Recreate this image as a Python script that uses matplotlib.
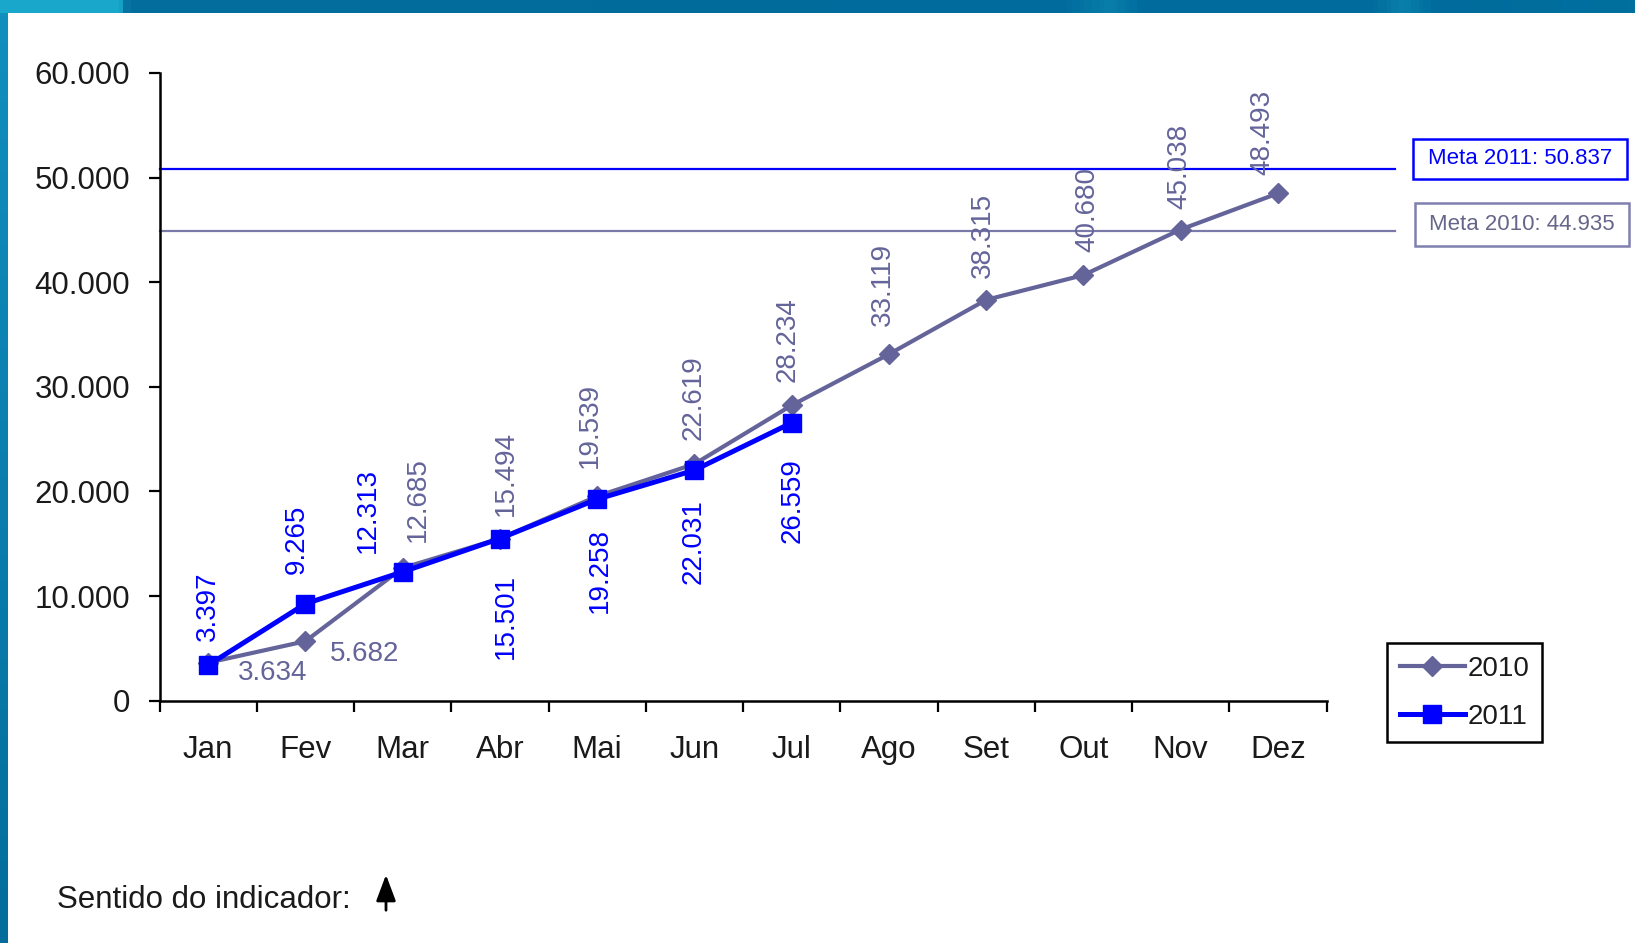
import matplotlib
matplotlib.use("Agg")
import numpy as np
import matplotlib.pyplot as plt
from matplotlib.ticker import FuncFormatter
from matplotlib.patches import Rectangle, FancyArrowPatch

plt.rcParams["font.family"] = ["Liberation Sans", "DejaVu Sans"]

# ---- data -------------------------------------------------------------
months = ["Jan", "Fev", "Mar", "Abr", "Mai", "Jun",
          "Jul", "Ago", "Set", "Out", "Nov", "Dez"]
values_2010 = [3634, 5682, 12685, 15494, 19539, 22619,
               28234, 33119, 38315, 40680, 45038, 48493]
values_2011 = [3397, 9265, 12313, 15501, 19258, 22031, 26559]
meta_2011 = 50837
meta_2010 = 44935
y_ticks = [0, 10000, 20000, 30000, 40000, 50000, 60000]

# ---- label placement (offsets in pixels from each point) ---------------
off_2010 = [(65, -10), (59, -13), (15, 26), (6, 23), (-7, 28), (-1, 24),
            (-4, 23), (-6, 28), (-3, 22), (4, 23), (-1, 21), (-15, 18)]
off_2011 = [(0, 24), (-9, 30), (-35, 19), (6, -35), (3, -29), (-1, -29),
            (1, -35)]

C10 = "#64649a"
C11 = "#0000ff"
TXT = "#1a1a1a"

W, H = 1635, 943
fig = plt.figure(figsize=(W / 100, H / 100), dpi=100)
fig.patch.set_facecolor("white")


def fx(x):
    return x / W


def fy(y):
    return 1 - y / H


# ---- frame decoration ---------------------------------------------------
top = fig.add_axes([0, fy(13), 1, 13 / H])
grad = np.linspace(0, 1, 400)[None, :]
top.imshow(grad, aspect="auto", cmap=matplotlib.colors.LinearSegmentedColormap.from_list(
    "topbar", [(0, "#19a7cc"), (0.07, "#19a7cc"), (0.075, "#046e9e"),
               (0.65, "#006b9c"), (0.68, "#0a7eaa"), (0.70, "#006b9c"),
               (0.84, "#006b9c"), (0.86, "#0a80ac"), (0.88, "#006b9c"),
               (1, "#00709f")]), extent=[0, 1, 0, 1])
top.set_axis_off()

left = fig.add_axes([0, 0, fx(8), fy(13)])
left.imshow(np.linspace(0, 1, 400)[:, None], aspect="auto",
            cmap=matplotlib.colors.LinearSegmentedColormap.from_list(
                "leftbar", ["#118fbd", "#0a7fae", "#036d9c"]),
            extent=[0, 1, 0, 1])
left.set_axis_off()

# ---- main axes ------------------------------------------------------------
ax = fig.add_axes([fx(159.5), fy(700.7), fx(1326.5) - fx(159.5), fy(73) - fy(700.7)])
x10 = np.arange(len(values_2010))
x11 = np.arange(len(values_2011))

l10, = ax.plot(x10, values_2010, color=C10, lw=3, marker="D", ms=10,
               zorder=3, solid_joinstyle="miter")
l11, = ax.plot(x11, values_2011, color=C11, lw=3.6, marker="s", ms=13,
               zorder=4)

ax.set_xlim(-0.5, 11.5)
ax.set_ylim(0, 60000)
ax.set_yticks(y_ticks)
ax.yaxis.set_major_formatter(FuncFormatter(lambda v, p: f"{int(v):,}".replace(",", ".")))

ax.set_xticks(np.arange(-0.5, 12, 1))
ax.set_xticklabels([])
ax.set_xticks(np.arange(12), minor=True)
ax.set_xticklabels(months, minor=True)
ax.tick_params(axis="x", which="major", length=8, width=1.6, direction="out", color="black")
ax.tick_params(axis="x", which="minor", length=0, pad=25, labelsize=22.5, labelcolor=TXT)
ax.tick_params(axis="y", length=8, width=1.6, direction="out", pad=13,
               labelsize=22.5, labelcolor=TXT, color="black")

for s in ("top", "right"):
    ax.spines[s].set_visible(False)
for s in ("left", "bottom"):
    ax.spines[s].set_linewidth(1.8)
    ax.spines[s].set_color("black")

# goal lines, running past the end of the category axis
ytr = ax.get_yaxis_transform()
ax.plot([0, 1.059], [meta_2011, meta_2011], transform=ytr, color=C11, lw=1.6,
        clip_on=False, zorder=2)
ax.plot([0, 1.059], [meta_2010, meta_2010], transform=ytr, color="#7a7aaa", lw=1.6,
        clip_on=False, zorder=2)

# ---- value labels ---------------------------------------------------------
def fmt(v):
    return f"{v:,}".replace(",", ".")


LBL = 20
for i, (v, (dx, dy)) in enumerate(zip(values_2010, off_2010)):
    if i < 2:
        ax.annotate(fmt(v), (i, v), xytext=(dx, dy), textcoords="offset pixels",
                    ha="center", va="center", fontsize=LBL, color=C10, zorder=5)
    else:
        ax.annotate(fmt(v), (i, v), xytext=(dx, dy), textcoords="offset pixels",
                    ha="center", va="bottom", rotation=90, fontsize=LBL,
                    color=C10, zorder=5)

for i, (v, (dx, dy)) in enumerate(zip(values_2011, off_2011)):
    ax.annotate(fmt(v), (i, v), xytext=(dx, dy), textcoords="offset pixels",
                ha="center", va="bottom" if dy > 0 else "top", rotation=90,
                fontsize=LBL, color=C11, zorder=5)

# ---- goal boxes -----------------------------------------------------------
def goal_box(x0, y0, x1, y1, text, edge, tcolor):
    fig.patches.append(Rectangle((fx(x0), fy(y1)), fx(x1) - fx(x0), fy(y0) - fy(y1),
                                 transform=fig.transFigure, facecolor="white",
                                 edgecolor=edge, lw=1.8))
    fig.text(fx((x0 + x1) / 2), fy((y0 + y1) / 2), text, ha="center", va="center",
             fontsize=16, color=tcolor)


goal_box(1413, 139, 1627, 179, f"Meta 2011: {fmt(meta_2011)}", C11, C11)
goal_box(1415, 203, 1629, 246, f"Meta 2010: {fmt(meta_2010)}", "#8080b0", "#66668a")

# ---- legend ---------------------------------------------------------------
leg = fig.legend([l10, l11], ["2010", "2011"], loc="upper left",
                 bbox_to_anchor=(fx(1387), fy(643)), borderaxespad=0,
                 frameon=True, fancybox=False, edgecolor="black", framealpha=1,
                 fontsize=20, handlelength=2.35, handletextpad=0.1,
                 borderpad=0.45, labelspacing=0.8)
leg.get_frame().set_linewidth(1.8)
for t in leg.get_texts():
    t.set_color(TXT)

# ---- footer ---------------------------------------------------------------
fig.text(fx(57), fy(908), "Sentido do indicador:", ha="left", va="baseline",
         fontsize=22.5, color=TXT)
fig.patches.append(FancyArrowPatch(
    (fx(386), fy(913)), (fx(386), fy(872)), transform=fig.transFigure,
    arrowstyle="-|>,head_length=0.8,head_width=0.3", mutation_scale=20,
    color="black", lw=2))

fig.savefig("out.png", dpi=100, facecolor="white")
